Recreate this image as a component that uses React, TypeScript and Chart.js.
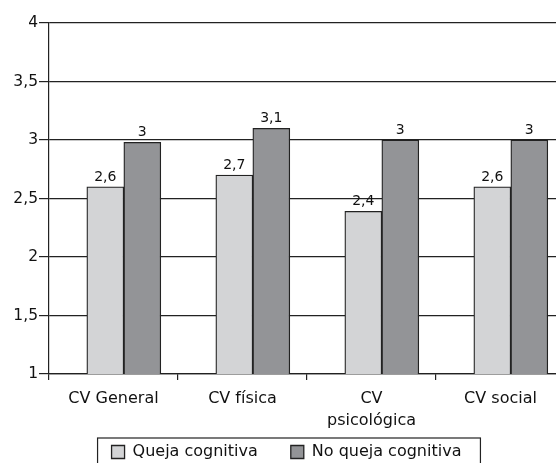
import React, { useEffect, useRef } from 'react';
import { Chart, registerables } from 'chart.js';

Chart.register(...registerables);

const categories: (string | string[])[] = ['CV General', 'CV física', ['CV', 'psicológica'], 'CV social'];
const seriesNames = ['Queja cognitiva', 'No queja cognitiva'];
const quejaValues = [2.6, 2.7, 2.39, 2.6];
const noQuejaValues = [2.98, 3.1, 3.0, 3.0];
const yTicks = [1, 1.5, 2, 2.5, 3, 3.5, 4];

const FONT = '"DejaVu Sans", "Liberation Sans", Arial, sans-serif';
const BAR_SHIFT = 0.08;
const LEGEND_CENTER_Y = 452;
const LEGEND_FONT = 16;

const fmt = (v: number) => String(Math.round(v * 10) / 10).replace('.', ',');

const valueLabels = {
  id: 'valueLabels',
  afterDatasetsDraw(chart: any) {
    const ctx = chart.ctx;
    ctx.save();
    ctx.font = `14px ${FONT}`;
    ctx.fillStyle = '#111';
    ctx.textAlign = 'center';
    ctx.textBaseline = 'alphabetic';
    chart.data.datasets.forEach((ds: any, di: number) => {
      const meta = chart.getDatasetMeta(di);
      meta.data.forEach((el: any, i: number) => {
        ctx.fillText(fmt(ds.data[i].y), el.x, el.y - 6);
      });
    });
    ctx.restore();
  },
};

const legendPlace = {
  id: 'legendPlace',
  afterLayout(chart: any) {
    const lg = chart.legend;
    if (!lg) return;
    const p = lg.options.labels.padding;
    const top = LEGEND_CENTER_Y - p - LEGEND_FONT / 2;
    lg.top = top;
    lg.bottom = top + 2 * p + LEGEND_FONT;
    lg.height = lg.bottom - lg.top;
  },
  afterDraw(chart: any) {
    const lg = chart.legend;
    const hb = lg && lg.legendHitBoxes;
    if (!hb || !hb.length) return;
    const first = hb[0];
    const last = hb[hb.length - 1];
    const ctx = chart.ctx;
    ctx.save();
    ctx.strokeStyle = '#222';
    ctx.lineWidth = 1.2;
    const left = first.left - 14;
    const right = last.left + last.width + 19;
    ctx.strokeRect(left, LEGEND_CENTER_Y - 14, right - left, 40);
    ctx.restore();
  },
};

export default function App() {
  const ref = useRef<HTMLCanvasElement | null>(null);

  useEffect(() => {
    if (!ref.current) return;
    Chart.defaults.font.family = FONT;
    Chart.defaults.color = '#111';
    const chart = new Chart(ref.current, {
      type: 'bar',
      data: {
        labels: categories,
        datasets: [
          {
            label: seriesNames[0],
            data: quejaValues.map((v, i) => ({ x: i + BAR_SHIFT, y: v })),
            backgroundColor: '#d3d4d6',
            borderColor: '#222',
            borderWidth: 1.3,
            barThickness: 37,
            xAxisID: 'x',
            yAxisID: 'y',
          },
          {
            label: seriesNames[1],
            data: noQuejaValues.map((v, i) => ({ x: i + BAR_SHIFT, y: v })),
            backgroundColor: '#939497',
            borderColor: '#222',
            borderWidth: 1.3,
            barThickness: 37,
            xAxisID: 'x',
            yAxisID: 'y',
          },
        ],
      } as any,
      options: {
        animation: false,
        responsive: false,
        events: [],
        layout: { padding: { top: 23, right: 15, left: 8, bottom: 0 } },
        scales: {
          x: {
            type: 'linear',
            display: false,
            offset: false,
            min: -0.5,
            max: 3.5,
          },
          xc: {
            type: 'category',
            position: 'bottom',
            offset: true,
            grid: {
              offset: true,
              drawOnChartArea: false,
              drawTicks: true,
              tickLength: 6,
              color: '#222',
              lineWidth: 1.2,
            },
            border: { display: true, color: '#222', width: 1.2 },
            ticks: {
              autoSkip: false,
              maxRotation: 0,
              padding: 8,
              color: '#111',
              font: { size: 16, lineHeight: 1.35 },
            },
            afterFit: (s: any) => {
              s.height = 60;
            },
          },
          y: {
            type: 'linear',
            min: 1,
            max: 4,
            afterBuildTicks: (s: any) => {
              s.ticks = yTicks.map((v) => ({ value: v }));
            },
            afterFit: (s: any) => {
              s.width = 41;
            },
            grid: { color: '#222', lineWidth: 1.2, tickLength: 10 },
            border: { display: true, color: '#222', width: 1.2 },
            ticks: {
              padding: 1,
              color: '#111',
              font: { size: 15.5 },
              callback: (v: any) => fmt(Number(v)),
            },
          },
        } as any,
        plugins: {
          legend: {
            display: true,
            position: 'bottom',
            maxHeight: 30,
            labels: {
              boxWidth: 13,
              boxHeight: 13,
              padding: 33,
              color: '#111',
              font: { size: LEGEND_FONT },
            },
          },
          tooltip: { enabled: false },
        },
      },
      plugins: [valueLabels, legendPlace],
    });
    return () => chart.destroy();
  }, []);

  return (
    <div style={{ position: 'fixed', left: 0, top: 0, width: 580, height: 464, overflow: 'hidden', background: '#fff' }}>
      <canvas ref={ref} width={580} height={464} style={{ display: 'block' }} />
    </div>
  );
}
